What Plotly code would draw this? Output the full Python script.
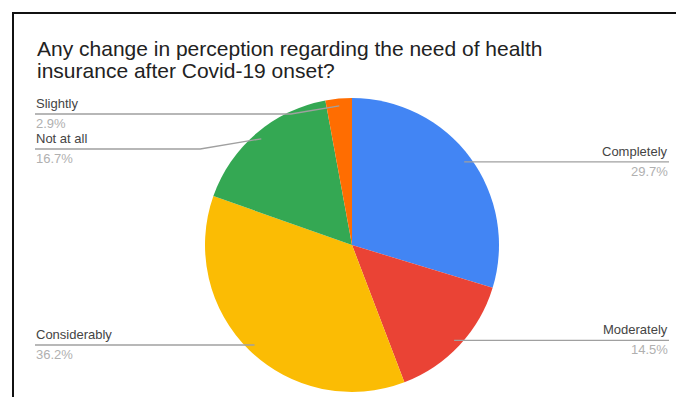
import math
import plotly.graph_objects as go

# ---- data ----
labels = ["Completely", "Moderately", "Considerably", "Not at all", "Slightly"]
values = [29.7, 14.5, 36.2, 16.7, 2.9]
colors = ["#4285F4", "#EA4335", "#FBBC04", "#34A853", "#FF6D01"]
title_lines = ["Any change in perception regarding the need of health",
               "insurance after Covid-19 onset?"]

# ---- layout constants (page pixels) ----
OFF = 8                             # default body margin of the html page
W, H = 684 - 2 * OFF, 405 - 2 * OFF
CX, CY, R = 352, 245, 147           # pie centre / radius in page px
LEFT_X, RIGHT_X = 35, 669           # label column edges
MIN_LINE_Y, MIN_GAP = 114, 35       # label collision settings
FONT = "Liberation Sans, Arial, sans-serif"


def px(x):
    return (x - OFF) / W


def py(y):
    return 1 - (y - OFF) / H


fig = go.Figure(go.Pie(
    labels=labels, values=values, sort=False, direction="clockwise", rotation=0,
    marker=dict(colors=colors, line=dict(width=0)),
    textinfo="none", hoverinfo="label+percent", showlegend=False,
    domain=dict(x=[px(CX - R), px(CX + R)], y=[py(CY + R), py(CY - R)]),
))

# anchor points for leader lines, from the data
total = sum(values)
cum = 0
items = []
for lab, v in zip(labels, values):
    mid = (cum + v / 2) / total * 2 * math.pi
    cum += v
    ax = CX + 0.95 * R * math.sin(mid)
    ay = CY - 0.95 * R * math.cos(mid)
    side = "right" if math.sin(mid) > 0 else "left"
    items.append(dict(label=lab, value=v, ax=ax, ay=ay, side=side))

# resolve label y positions per side
for side in ("left", "right"):
    grp = sorted([it for it in items if it["side"] == side], key=lambda d: d["ay"])
    last = None
    for it in grp:
        y = max(it["ay"], MIN_LINE_Y)
        if last is not None:
            y = max(y, last + MIN_GAP)
        it["ly"] = y
        last = y

shapes = []
annotations = []
for it in items:
    ly = it["ly"]
    dy = abs(ly - it["ay"])
    if it["side"] == "left":
        xt = LEFT_X
        knee = it["ax"] - dy * 6 if dy > 1 else it["ax"]
        xanchor = "left"
    else:
        xt = RIGHT_X
        knee = it["ax"] + dy * 6 if dy > 1 else it["ax"]
        xanchor = "right"
    path = f"M {px(xt)} {py(ly)} L {px(knee)} {py(ly)} L {px(it['ax'])} {py(it['ay'])}"
    shapes.append(dict(type="path", path=path, xref="paper", yref="paper",
                       line=dict(color="#a0a0a0", width=1.3)))
    annotations.append(dict(text=it["label"], x=px(xt), y=py(ly - 2), xref="paper", yref="paper",
                            xanchor=xanchor, yanchor="bottom", showarrow=False,
                            font=dict(family=FONT, size=13, color="#444444"), borderpad=0))
    annotations.append(dict(text=f"{it['value']:.1f}%", x=px(xt), y=py(ly + 1), xref="paper", yref="paper",
                            xanchor=xanchor, yanchor="top", showarrow=False,
                            font=dict(family=FONT, size=13, color="#b0b0b0"), borderpad=0))

# title (two lines, tight spacing)
for txt, yc in zip(title_lines, [48, 71]):
    annotations.append(dict(text=txt, x=px(36), y=py(yc), xref="paper", yref="paper",
                            xanchor="left", yanchor="middle", showarrow=False,
                            font=dict(family=FONT, size=21, color="#222222"), borderpad=0))

# frame (left and top border)
shapes.append(dict(type="line", xref="paper", yref="paper", x0=px(13), x1=px(13), y0=0, y1=py(13),
                   line=dict(color="#111111", width=2)))
shapes.append(dict(type="line", xref="paper", yref="paper", x0=px(12), x1=1, y0=py(13), y1=py(13),
                   line=dict(color="#111111", width=2)))

fig.update_layout(
    width=W, height=H,
    margin=dict(l=0, r=0, t=0, b=0),
    paper_bgcolor="white", plot_bgcolor="white",
    shapes=shapes, annotations=annotations,
)

fig.write_html("out.html")
